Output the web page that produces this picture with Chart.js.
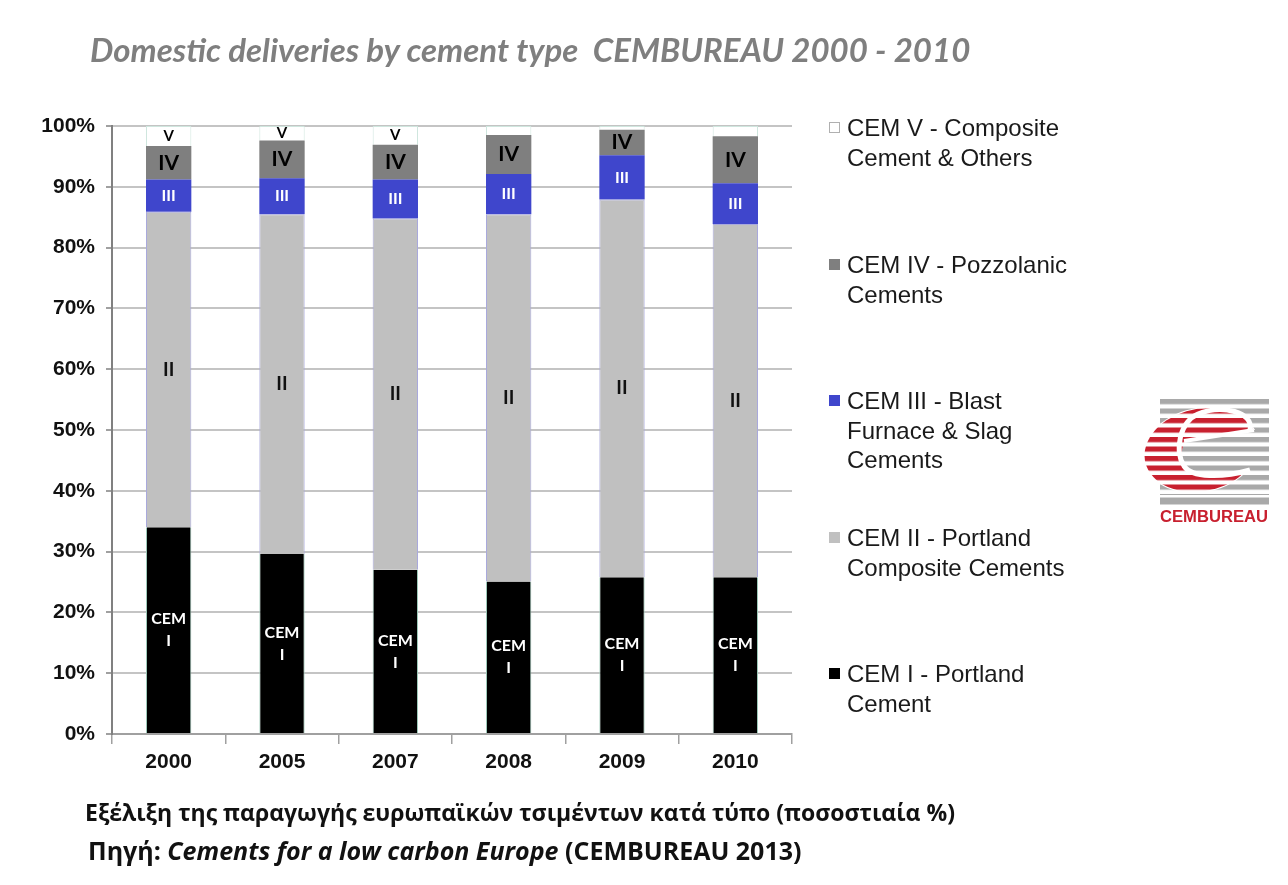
<!DOCTYPE html>
<html><head><meta charset="utf-8">
<script src="https://cdn.jsdelivr.net/npm/chart.js@4/dist/chart.umd.min.js"></script>
<style>
html,body{margin:0;padding:0;background:#fff;}
#wrap{position:relative;width:1288px;height:885px;overflow:hidden;background:#fff;}
#c{position:absolute;left:0;top:0;}
#title{position:absolute;left:90px;top:33px;font:italic 700 33px Lato, "Open Sans", sans-serif;color:#7f7f7f;white-space:pre;line-height:33px;}
.foot{position:absolute;font:700 23px "Open Sans", "Noto Sans", sans-serif;color:#111;white-space:pre;line-height:26px;}
#legend .item{position:absolute;left:829px;}
#legend .box{position:absolute;left:0;width:11px;height:11px;box-sizing:border-box;}
#legend .txt{position:absolute;left:18px;top:0;font:24px "Liberation Sans", Arial, sans-serif;color:#1a1a1a;white-space:pre;line-height:29.5px;}
#logo{position:absolute;left:1140px;top:395px;}
</style></head>
<body><div id="wrap">
<canvas id="c" width="1288" height="885"></canvas>
<div id="title">Domestic deliveries by cement type  CEMBUREAU 2000 - 2010</div>
<div id="legend"></div>
<svg id="logo" width="140" height="135" viewBox="1140 395 140 135" xmlns="http://www.w3.org/2000/svg">
  <defs>
    <pattern id="stripes" x="0" y="399" width="300" height="9.5" patternUnits="userSpaceOnUse">
      <rect x="0" y="0" width="300" height="5.2" fill="#a9a9a9"/>
    </pattern>
    <pattern id="rstripes" x="0" y="399" width="300" height="9.5" patternUnits="userSpaceOnUse">
      <rect x="0" y="0" width="300" height="5.2" fill="#c8202f"/>
    </pattern>
    <mask id="redMask">
      <ellipse cx="1201" cy="450" rx="56" ry="42" fill="#fff" transform="translate(1201 450) skewX(-10) translate(-1201 -450)"/>
      <path d="M1186,440 L1252,430 L1270,430 L1270,470 L1250,470 C1222,478 1192,478 1184,466 C1180,458 1181,448 1186,440 Z" fill="#000"/>
    </mask>
    <mask id="grayMask">
      <rect x="1140" y="395" width="140" height="135" fill="#fff"/>
      <ellipse cx="1201" cy="450" rx="57" ry="43" fill="#000" transform="translate(1201 450) skewX(-10) translate(-1201 -450)"/>
      <path d="M1186,440 L1252,430 L1270,430 L1270,470 L1250,470 C1222,478 1192,478 1184,466 C1180,458 1181,448 1186,440 Z" fill="#fff"/>
    </mask>
  </defs>
  <rect x="1160" y="399" width="109" height="96" fill="url(#stripes)" mask="url(#grayMask)"/>
  <rect x="1160" y="497.5" width="109" height="7" fill="#a9a9a9"/>
  <rect x="1140" y="399" width="130" height="96" fill="url(#rstripes)" mask="url(#redMask)"/>
  <path d="M1250,430 C1254,412 1222,404 1198,414 C1180,422 1174,450 1184,466 C1192,478 1222,478 1250,470" fill="none" stroke="#fff" stroke-width="5"/>
  <path d="M1184,441 L1254,430" fill="none" stroke="#fff" stroke-width="4"/>
  <text x="1160" y="522" font-family="Liberation Sans, Arial" font-weight="700" font-size="16" fill="#c8202f" textLength="108" lengthAdjust="spacingAndGlyphs">CEMBUREAU</text>
</svg>
<div class="foot" id="f1" style="left:85px;top:799px;">Εξέλιξη της παραγωγής ευρωπαϊκών τσιμέντων κατά τύπο (ποσοστιαία %)</div>
<div class="foot" id="f2" style="left:88px;top:837px;font-size:25px;">Πηγή: <i>Cements for a low carbon Europe</i> (CEMBUREAU 2013)</div>
</div>
<script>
// ---- data ----
const categories = ['2000', '2005', '2007', '2008', '2009', '2010'];
const cemI   = [34.0, 29.6, 27.0, 25.1, 25.8, 25.8];
const cemII  = [51.9, 55.9, 57.8, 60.4, 62.1, 58.1];
const cemIII = [5.3, 5.9, 6.4, 6.6, 7.3, 6.7];
const cemIV  = [5.5, 6.2, 5.7, 6.4, 4.2, 7.7];
const cemV   = [3.3, 2.4, 3.1, 1.5, 0.6, 1.7];
const segLabelsI   = ['CEM\nI', 'CEM\nI', 'CEM\nI', 'CEM\nI', 'CEM\nI', 'CEM\nI'];
const segLabelsII  = ['II', 'II', 'II', 'II', 'II', 'II'];
const segLabelsIII = ['III', 'III', 'III', 'III', 'III', 'III'];
const segLabelsIV  = ['IV', 'IV', 'IV', 'IV', 'IV', 'IV'];
const segLabelsV   = ['V', 'V', 'V', '', '', ''];
const nameI   = ['CEM I - Portland', 'Cement'];
const nameII  = ['CEM II - Portland', 'Composite Cements'];
const nameIII = ['CEM III - Blast', 'Furnace & Slag', 'Cements'];
const nameIV  = ['CEM IV - Pozzolanic', 'Cements'];
const nameV   = ['CEM V - Composite', 'Cement & Others'];

const datasets = [
  {label: nameI.join(' '), legendLines: nameI, data: cemI, backgroundColor: '#000000', borderColor: '#9cc8b8', borderWidth: {left:1,right:1,top:0,bottom:0},
   segLabels: segLabelsI, segColor: '#ffffff', segFont: '700 16px Lato, sans-serif', legendTop: 659},
  {label: nameII.join(' '), legendLines: nameII, data: cemII, backgroundColor: '#c0c0c0', borderColor: '#a9a9dc', borderWidth: {left:1,right:1,top:1,bottom:0},
   segLabels: segLabelsII, segColor: '#111111', segFont: '700 19px Lato, sans-serif', legendTop: 523},
  {label: nameIII.join(' '), legendLines: nameIII, data: cemIII, backgroundColor: '#3f46cc', borderColor: '#3f46cc', borderWidth: 0,
   segLabels: segLabelsIII, segColor: '#ffffff', segFont: '700 16px Lato, sans-serif', legendTop: 386},
  {label: nameIV.join(' '), legendLines: nameIV, data: cemIV, backgroundColor: '#7f7f7f', borderColor: '#6f6f6f', borderWidth: 0,
   segLabels: segLabelsIV, segColor: '#000000', segFont: '700 21px Lato, sans-serif', legendTop: 250},
  {label: nameV.join(' '), legendLines: nameV, data: cemV, backgroundColor: '#ffffff', borderColor: '#cfe6de', borderWidth: 1,
   segLabels: segLabelsV, segColor: '#000000', segFont: '700 15px Lato, sans-serif', legendTop: 113}
];

const segLabelPlugin = {
  id: 'segLabels',
  afterDatasetsDraw(chart) {
    const ctx = chart.ctx;
    chart.data.datasets.forEach((ds, i) => {
      const meta = chart.getDatasetMeta(i);
      meta.data.forEach((el, j) => {
        const t = ds.segLabels[j];
        if (!t) return;
        const p = el.getProps(['x', 'y', 'base'], true);
        const cy = (p.y + p.base) / 2;
        const lines = t.split('\n');
        ctx.save();
        ctx.font = ds.segFont;
        ctx.fillStyle = ds.segColor;
        ctx.textAlign = 'center';
        ctx.textBaseline = 'middle';
        const lh = 22;
        lines.forEach((ln, k) => {
          ctx.fillText(ln, p.x, cy + (k - (lines.length - 1) / 2) * lh);
        });
        ctx.restore();
      });
    });
  }
};

const chart = new Chart(document.getElementById('c'), {
  type: 'bar',
  data: {labels: categories, datasets: datasets},
  options: {
    responsive: false,
    animation: false,
    layout: {padding: {left: 0, top: 126, right: 496, bottom: 91}},
    plugins: {legend: {display: false}, tooltip: {enabled: false}, title: {display: false}},
    datasets: {bar: {barPercentage: 1, categoryPercentage: 0.4}},
    scales: {
      x: {
        stacked: true,
        afterFit: s => { s.height = 60; },
        grid: {drawOnChartArea: false, offset: true, tickLength: 10, color: '#a0a0a0', lineWidth: 1.5},
        border: {display: true, color: '#a0a0a0', width: 2},
        ticks: {color: '#111', font: {family: 'Liberation Sans', weight: 'bold', size: 21}, padding: 6}
      },
      y: {
        stacked: true, min: 0, max: 100,
        afterFit: s => { s.width = 112; },
        grid: {color: '#c4c4c4', lineWidth: 2, tickLength: 6, tickColor: '#a0a0a0'},
        border: {display: true, color: '#808080', width: 2},
        ticks: {stepSize: 10, callback: v => v + '%', color: '#111', font: {family: 'Liberation Sans', weight: 'bold', size: 21}, padding: 11}
      }
    }
  },
  plugins: [segLabelPlugin]
});

// HTML legend built from datasets
const lg = document.getElementById('legend');
for (let i = datasets.length - 1; i >= 0; i--) {
  const ds = datasets[i];
  const it = document.createElement('div');
  it.className = 'item';
  it.style.top = ds.legendTop + 'px';
  const b = document.createElement('div');
  b.className = 'box';
  b.style.top = '9px';
  b.style.background = ds.backgroundColor;
  b.style.border = ds.backgroundColor === '#ffffff' ? '1px solid #b0b0b0' : '0';
  const t = document.createElement('div');
  t.className = 'txt';
  t.textContent = ds.legendLines.join('\n');
  it.appendChild(b); it.appendChild(t);
  lg.appendChild(it);
}
</script>
</body></html>
